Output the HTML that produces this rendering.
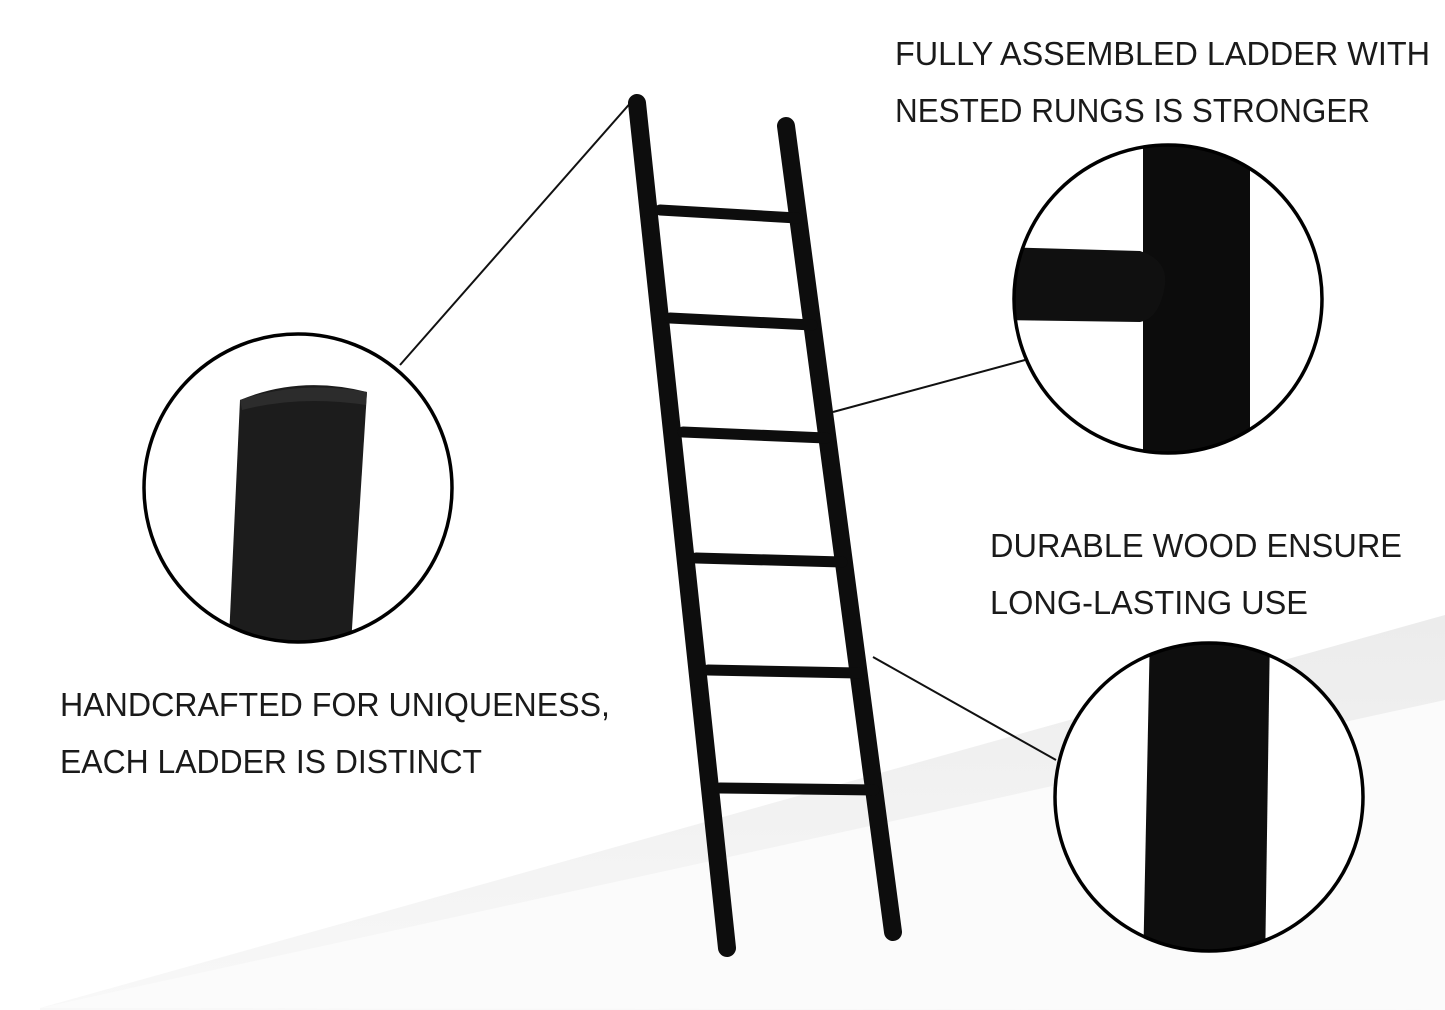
<!DOCTYPE html>
<html><head><style>
html,body{margin:0;padding:0;background:#fff;}
svg{display:block;}
text{font-family:"Liberation Sans",sans-serif;font-size:33px;fill:#1a1a1a;}
</style></head><body>
<svg width="1445" height="1010" viewBox="0 0 1445 1010" xmlns="http://www.w3.org/2000/svg">
<defs>
<linearGradient id="fl" x1="0" y1="0" x2="0" y2="1">
<stop offset="0" stop-color="#ececec"/><stop offset="1" stop-color="#f8f8f8"/>
</linearGradient>
<clipPath id="c1"><circle cx="298" cy="488" r="154"/></clipPath>
<clipPath id="c2"><circle cx="1168" cy="299" r="154"/></clipPath>
<clipPath id="c3"><circle cx="1209" cy="797" r="154"/></clipPath>
</defs>
<rect width="1445" height="1010" fill="#fff"/>
<polygon points="40,1008 1445,615 1445,1010 40,1010" fill="url(#fl)"/>
<polygon points="40,1008 1445,700 1445,1010" fill="#fbfbfb"/>
<circle cx="1209" cy="797" r="154" fill="#fff"/>

<line x1="633" y1="100" x2="400" y2="365" stroke="#111" stroke-width="2"/>
<line x1="1025" y1="360" x2="833" y2="412" stroke="#111" stroke-width="2"/>
<line x1="873" y1="657" x2="1056" y2="760" stroke="#111" stroke-width="2"/>

<g stroke="#0d0d0d" stroke-linecap="round">
<line x1="637" y1="103" x2="727" y2="948" stroke-width="18"/>
<line x1="786" y1="126" x2="893" y2="932" stroke-width="18"/>
<g stroke-width="11">
<line x1="660" y1="210" x2="797" y2="218"/>
<line x1="670" y1="318" x2="812" y2="325"/>
<line x1="683" y1="432" x2="826" y2="438"/>
<line x1="696" y1="558" x2="842" y2="562"/>
<line x1="708" y1="670" x2="858" y2="673"/>
<line x1="720" y1="788" x2="874" y2="790"/>
</g>
</g>

<g clip-path="url(#c1)">
<path d="M240,400 Q300,375 367,392 L350,660 L228,660 Z" fill="#1c1c1c"/>
<path d="M240,400 Q300,380 367,392 L366,405 Q300,395 242,410 Z" fill="#2c2c2c"/>
</g>
<circle cx="298" cy="488" r="154" fill="none" stroke="#000" stroke-width="3.5"/>

<g clip-path="url(#c2)">
<rect x="1143" y="130" width="107" height="340" fill="#0c0c0c"/>
<path d="M1000,247 L1140,251 Q1168,260 1165,285 Q1160,318 1140,322 L1000,320 Z" fill="#101010"/>
</g>
<circle cx="1168" cy="299" r="154" fill="none" stroke="#000" stroke-width="3.5"/>

<g clip-path="url(#c3)">
<polygon points="1150,630 1270,630 1265,970 1143,970" fill="#0e0e0e"/>
</g>
<circle cx="1209" cy="797" r="154" fill="none" stroke="#000" stroke-width="3.5"/>

<g lengthAdjust="spacingAndGlyphs">
<text x="895" y="65" textLength="535" lengthAdjust="spacingAndGlyphs">FULLY ASSEMBLED LADDER WITH</text>
<text x="895" y="122" textLength="475" lengthAdjust="spacingAndGlyphs">NESTED RUNGS IS STRONGER</text>
<text x="990" y="557" textLength="412" lengthAdjust="spacingAndGlyphs">DURABLE WOOD ENSURE</text>
<text x="990" y="614" textLength="318" lengthAdjust="spacingAndGlyphs">LONG-LASTING USE</text>
<text x="60" y="716" textLength="550" lengthAdjust="spacingAndGlyphs">HANDCRAFTED FOR UNIQUENESS,</text>
<text x="60" y="773" textLength="422" lengthAdjust="spacingAndGlyphs">EACH LADDER IS DISTINCT</text>
</g>
</svg>
</body></html>
